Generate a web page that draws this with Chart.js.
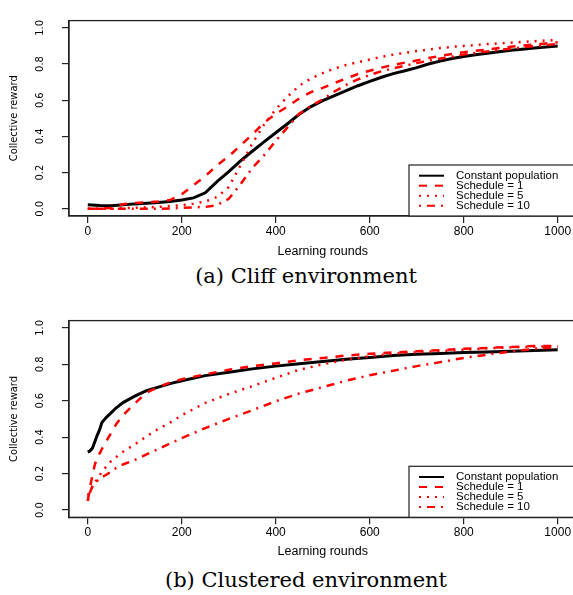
<!DOCTYPE html>
<html>
<head>
<meta charset="utf-8">
<script src="https://cdn.jsdelivr.net/npm/chart.js@4.4.0/dist/chart.umd.min.js"></script>
<style>
  html, body { margin: 0; padding: 0; background: #fff; }
  body { width: 573px; height: 595px; overflow: hidden; position: relative; }
  canvas { position: absolute; left: 0; }
  #cliff { top: 0; }
  #clustered { top: 300px; }
  .caption { position: absolute; left: 0; width: 612px; text-align: center; line-height: 24px;
             font-family: 'DejaVu Serif', 'Liberation Serif', serif; font-size: 21px; color: #000; }
</style>
</head>
<body>
<canvas id="cliff" width="600" height="262"></canvas>
<div class="caption" style="top:264px">(a) Cliff environment</div>
<canvas id="clustered" width="600" height="262"></canvas>
<div class="caption" style="top:568px">(b) Clustered environment</div>
<script>
const roundTicks = [0, 200, 400, 600, 800, 1000];
const rewardTicks = [0, 0.2, 0.4, 0.6, 0.8, 1.0];
const seriesLabels = ['Constant population', 'Schedule = 1', 'Schedule = 5', 'Schedule = 10'];

// (a) Cliff environment
const cliffRounds = [0, 25, 50, 75, 100, 125, 150, 175, 200, 225, 250, 275, 300, 325, 350, 375, 400, 425, 450, 475, 500,
  525, 550, 575, 600, 625, 650, 675, 700, 725, 750, 775, 800, 825, 850, 875, 900, 925, 950, 975, 1000];
const cliffConstant = [0.022, 0.018, 0.017, 0.022, 0.027, 0.03, 0.034, 0.04, 0.048, 0.06, 0.088, 0.15, 0.205, 0.265, 0.318, 0.37, 0.42, 0.47, 0.522, 0.565, 0.598,
  0.625, 0.653, 0.68, 0.704, 0.727, 0.747, 0.763, 0.78, 0.8, 0.816, 0.83, 0.842, 0.851, 0.859, 0.868, 0.876, 0.882, 0.888, 0.894, 0.899];
const cliffSchedule1 = [0.0, 0.0, 0.005, 0.025, 0.032, 0.035, 0.04, 0.048, 0.08, 0.13, 0.18, 0.24, 0.29, 0.35, 0.41, 0.475, 0.525, 0.565, 0.61, 0.645, 0.668,
  0.695, 0.72, 0.745, 0.763, 0.78, 0.795, 0.808, 0.82, 0.833, 0.845, 0.855, 0.865, 0.873, 0.88, 0.888, 0.895, 0.902, 0.908, 0.914, 0.92];
const cliffSchedule5 = [0.0, 0.0, 0.0, 0.003, 0.005, 0.008, 0.01, 0.015, 0.02, 0.028, 0.04, 0.065, 0.12, 0.24, 0.36, 0.465, 0.55, 0.62, 0.68, 0.72, 0.75,
  0.775, 0.795, 0.81, 0.825, 0.84, 0.852, 0.862, 0.872, 0.88, 0.888, 0.895, 0.9, 0.905, 0.91, 0.914, 0.918, 0.922, 0.926, 0.93, 0.933];
const cliffSchedule10 = [0.0, 0.0, 0.0, 0.0, 0.0, 0.0, 0.0, 0.002, 0.005, 0.008, 0.01, 0.02, 0.055, 0.135, 0.225, 0.295, 0.375, 0.45, 0.525, 0.568, 0.605,
  0.648, 0.685, 0.715, 0.74, 0.76, 0.776, 0.79, 0.805, 0.818, 0.83, 0.84, 0.852, 0.861, 0.869, 0.877, 0.885, 0.892, 0.899, 0.905, 0.91];

// (b) Clustered environment
const clusterRounds = [0, 5, 10, 15, 20, 25, 30, 40, 50, 60, 75, 100, 125, 150, 175, 200, 250, 300, 350, 400,
  450, 500, 550, 600, 650, 700, 750, 800, 850, 900, 950, 1000];
const clusterConstant = [0.318, 0.325, 0.34, 0.375, 0.41, 0.44, 0.48, 0.51, 0.535, 0.56, 0.59, 0.625, 0.655, 0.675, 0.694, 0.71, 0.738, 0.757, 0.775, 0.79,
  0.803, 0.815, 0.828, 0.838, 0.848, 0.855, 0.86, 0.865, 0.868, 0.872, 0.876, 0.88];
const clusterSchedule1 = [0.05, 0.13, 0.19, 0.25, 0.285, 0.31, 0.335, 0.38, 0.425, 0.47, 0.52, 0.585, 0.645, 0.675, 0.7, 0.718, 0.745, 0.77, 0.79, 0.805,
  0.822, 0.835, 0.848, 0.858, 0.865, 0.872, 0.878, 0.885, 0.89, 0.895, 0.9, 0.9];
const clusterSchedule5 = [0.08, 0.1, 0.13, 0.15, 0.17, 0.19, 0.21, 0.24, 0.27, 0.29, 0.32, 0.36, 0.405, 0.445, 0.48, 0.52, 0.588, 0.637, 0.68, 0.726,
  0.77, 0.8, 0.825, 0.845, 0.858, 0.866, 0.873, 0.88, 0.888, 0.893, 0.897, 0.9];
const clusterSchedule10 = [0.05, 0.1, 0.13, 0.15, 0.16, 0.175, 0.18, 0.195, 0.212, 0.23, 0.25, 0.275, 0.305, 0.335, 0.365, 0.395, 0.45, 0.5, 0.548, 0.597,
  0.64, 0.675, 0.71, 0.74, 0.765, 0.79, 0.812, 0.835, 0.853, 0.87, 0.885, 0.895];

const sans = "'Liberation Sans', Arial, Helvetica, sans-serif";
const narrow = "'Liberation Sans Narrow', 'DejaVu Sans Condensed', 'Liberation Sans', sans-serif";
const canvasHeight = 262;

// R-style box round the plot plus the bottom-right legend
const frameAndLegend = {
  id: 'frameAndLegend',
  afterDatasetsDraw(chart) {
    const {ctx, chartArea: a} = chart;
    ctx.save();
    ctx.strokeStyle = '#222';
    ctx.lineWidth = 1.3;
    ctx.strokeRect(a.left, a.top, a.right - a.left, a.bottom - a.top);

    const left = a.right - 167.5, top = a.bottom - 51;
    ctx.fillStyle = '#fff';
    ctx.fillRect(left, top, a.right - left, a.bottom - top);
    ctx.lineWidth = 1.2;
    ctx.strokeRect(left, top, a.right - left, a.bottom - top);

    ctx.font = "11.5px " + sans;
    ctx.textBaseline = 'middle';
    chart.data.datasets.forEach((ds, i) => {
      const y = a.bottom - 40.3 + i * 10;
      ctx.strokeStyle = ds.borderColor;
      ctx.lineWidth = 2;
      ctx.setLineDash(ds.borderDash || []);
      ctx.beginPath();
      ctx.moveTo(left + 10, y);
      ctx.lineTo(left + 35, y);
      ctx.stroke();
      ctx.setLineDash([]);
      ctx.fillStyle = '#000';
      ctx.fillText(ds.label, left + 47, y);
    });
    ctx.restore();
  }
};

function points(rounds, values) {
  return rounds.map((r, i) => ({x: r, y: values[i]}));
}

function makeChart(id, rounds, series, areaTop, areaBottom) {
  const styles = [
    {borderColor: '#000000', borderWidth: 3, borderDash: [], order: 1},
    {borderColor: '#ff0000', borderWidth: 2.5, borderDash: [8, 8], order: 0},
    {borderColor: '#ff0000', borderWidth: 2.5, borderDash: [2, 6], order: 0},
    {borderColor: '#ff0000', borderWidth: 2.5, borderDash: [2, 6, 8, 6], order: 0}
  ];
  const datasets = series.map((vals, i) => Object.assign({
    label: seriesLabels[i],
    data: points(rounds, vals),
    pointRadius: 0,
    tension: 0,
    fill: false
  }, styles[i]));

  const axisGrid = {drawOnChartArea: false, tickLength: 7, color: '#222', lineWidth: 1.2};
  const axisBorder = {display: true, color: '#222', width: 1.3};

  new Chart(document.getElementById(id), {
    type: 'line',
    data: {datasets: datasets},
    options: {
      responsive: false,
      animation: false,
      devicePixelRatio: 1,
      layout: {padding: {top: areaTop, right: 23.5, left: 0, bottom: 0}},
      plugins: {legend: {display: false}, tooltip: {enabled: false}},
      scales: {
        x: {
          type: 'linear',
          min: -40,
          max: 1040,
          afterBuildTicks: s => { s.ticks = roundTicks.map(v => ({value: v})); },
          afterFit: s => { s.height = canvasHeight - areaBottom; },
          grid: axisGrid,
          border: axisBorder,
          ticks: {color: '#000', font: {family: sans, size: 12}, padding: 1.5, maxRotation: 0, autoSkip: false,
                  callback: v => String(v)},
          title: {display: true, text: 'Learning rounds', color: '#000',
                  font: {family: sans, size: 12.5}, padding: {top: 0, bottom: 2.5}}
        },
        y: {
          type: 'linear',
          min: -0.04,
          max: 1.04,
          afterBuildTicks: s => { s.ticks = rewardTicks.map(v => ({value: v})); },
          afterFit: s => { s.width = 69; },
          grid: axisGrid,
          border: axisBorder,
          ticks: {color: '#000', font: {family: narrow, size: 11}, minRotation: 90, maxRotation: 90,
                  crossAlign: 'center', padding: 14, callback: v => v.toFixed(1)},
          title: {display: true, text: 'Collective reward', color: '#000',
                  font: {family: narrow, size: 11}, padding: {top: 7.5, bottom: 0}}
        }
      }
    },
    plugins: [frameAndLegend]
  });
}

makeChart('cliff', cliffRounds, [cliffConstant, cliffSchedule1, cliffSchedule5, cliffSchedule10], 6.5, 216);
makeChart('clustered', clusterRounds, [clusterConstant, clusterSchedule1, clusterSchedule5, clusterSchedule10], 8, 217.3);
</script>
</body>
</html>
